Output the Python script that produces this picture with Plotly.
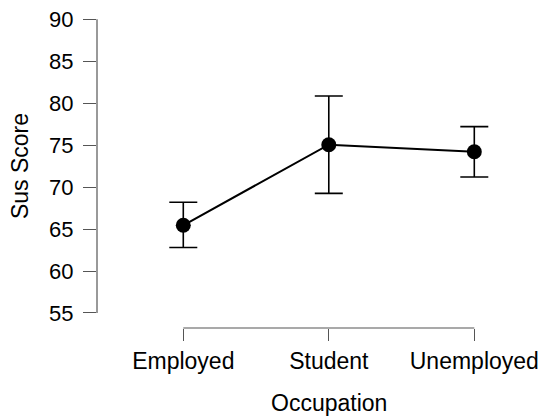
import plotly.graph_objects as go

categories = ["Employed", "Student", "Unemployed"]
means = [65.45, 75.05, 74.2]
ci_upper = [68.2, 80.85, 77.2]
ci_lower = [62.8, 69.25, 71.2]
y_ticks = [55, 60, 65, 70, 75, 80, 85, 90]

xpos = list(range(len(categories)))
err_plus = [u - m for u, m in zip(ci_upper, means)]
err_minus = [m - l for m, l in zip(means, ci_lower)]

FONT = "Liberation Sans, Arial, sans-serif"
AXIS_COLOR = "#555555"

fig = go.Figure()
fig.add_trace(go.Scatter(
    x=xpos, y=means, mode="lines+markers",
    line=dict(color="black", width=2),
    marker=dict(color="black", size=15),
    error_y=dict(type="data", symmetric=False, array=err_plus, arrayminus=err_minus,
                 color="black", thickness=1.6, width=14),
    cliponaxis=False, showlegend=False,
))

ymin = 55 - 15 / 8.383
fig.update_layout(
    width=550, height=420,
    margin=dict(l=89, r=18, t=7, b=100, autoexpand=False),
    paper_bgcolor="white", plot_bgcolor="white",
    font=dict(family=FONT, color="black", size=22),
    xaxis=dict(range=[-0.593, 2.4515], tickvals=xpos, ticktext=categories,
               showgrid=False, zeroline=False, showline=False, automargin=False,
               ticks="outside", ticklen=12, tickwidth=1.2, tickcolor=AXIS_COLOR,
               ticklabeloverflow="allow",
               tickfont=dict(size=23, family=FONT, color="black")),
    yaxis=dict(range=[ymin, 90.5], tickvals=y_ticks,
               showgrid=False, zeroline=False, showline=False, automargin=False,
               ticks="outside", ticklen=13, tickwidth=1.2, tickcolor=AXIS_COLOR,
               ticklabeloverflow="allow", ticklabelstandoff=5,
               tickfont=dict(size=22, family=FONT, color="black")),
)
# range-frame axis lines
fig.add_shape(type="line", xref="paper", yref="y", x0=0, x1=0, y0=min(y_ticks), y1=max(y_ticks),
              line=dict(color=AXIS_COLOR, width=1.2))
fig.add_shape(type="line", xref="x", yref="paper", x0=xpos[0], x1=xpos[-1], y0=0, y1=0,
              line=dict(color=AXIS_COLOR, width=1.2))
# axis titles
fig.add_annotation(text="Sus Score", xref="paper", yref="y", x=0, y=(min(y_ticks) + max(y_ticks)) / 2,
                   xshift=-77, textangle=-90, showarrow=False, xanchor="center", yanchor="middle",
                   font=dict(size=23, family=FONT, color="black"))
fig.add_annotation(text="Occupation", xref="x", yref="paper", x=xpos[1], y=0,
                   yshift=-75, showarrow=False, xanchor="center", yanchor="middle",
                   font=dict(size=23, family=FONT, color="black"))

fig.write_html("out.html")
